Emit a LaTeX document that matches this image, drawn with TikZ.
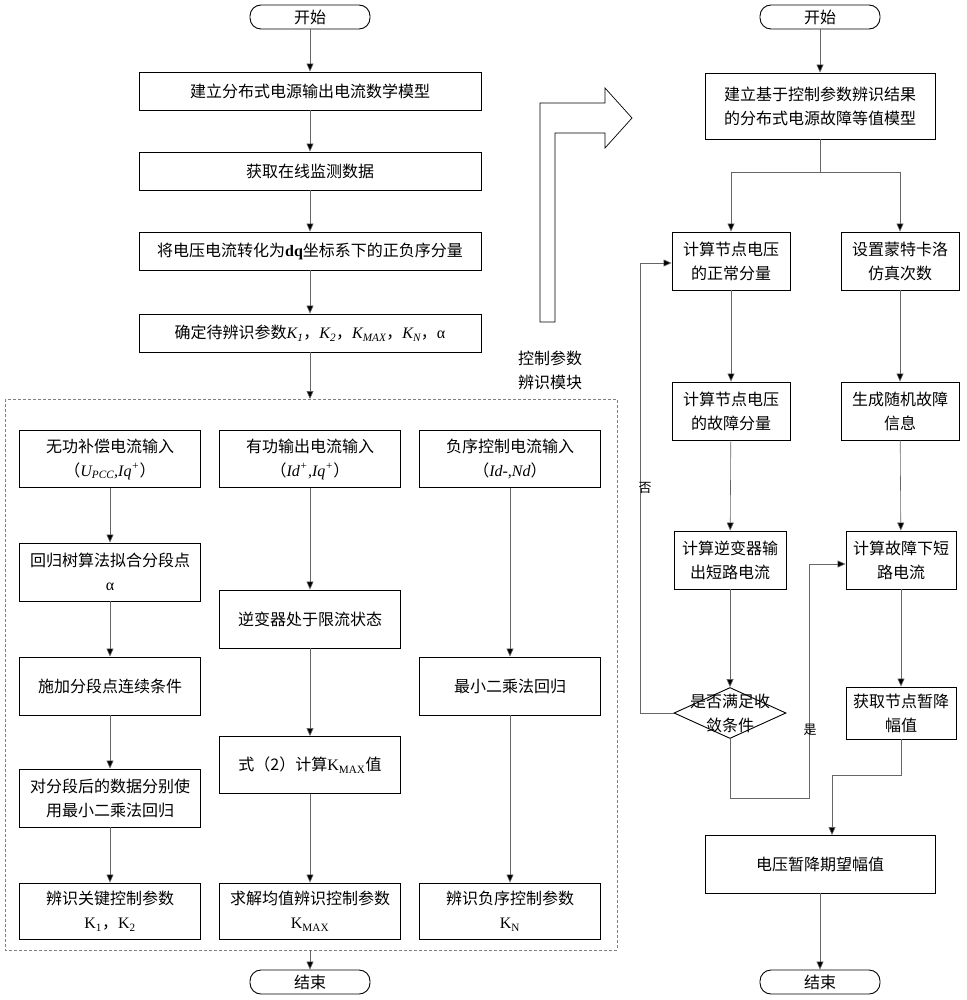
\documentclass[tikz,border=0pt]{standalone}
\usepackage{fontspec}
\setmainfont{Noto Sans CJK SC}
\newfontfamily\lat{Liberation Serif}
\usetikzlibrary{shapes.geometric,arrows.meta}
\begin{document}
\begin{tikzpicture}[x=1pt,y=-1pt,font=\fontsize{16}{24}\selectfont,
 box/.style={draw,line width=0.9pt,minimum width=#1,align=center,inner sep=1pt},
 term/.style={draw,line width=0.9pt,rounded corners=11pt,minimum width=120pt,minimum height=24pt,inner sep=1pt},
 ln/.style={draw=black!60,line width=0.6pt},
 ar/.style={ln,-{Triangle[length=8pt,width=7pt,fill=black]}}]
\useasboundingbox (0,0) rectangle (966,1000);
% left main
\node[term] (s1) at (310,17) {开始};
\node[box=342pt,minimum height=38pt] (a1) at (310,91) {建立分布式电源输出电流数学模型};
\node[box=342pt,minimum height=38pt] (a2) at (310,171) {获取在线监测数据};
\node[box=342pt,minimum height=38pt] (a3) at (310,251) {将电压电流转化为{\lat\bfseries dq}坐标系下的正负序分量};
\node[box=342pt,minimum height=38pt] (a4) at (310,333) {确定待辨识参数{\lat\itshape K\textsubscript{1}}，{\lat\itshape K\textsubscript{2}}，{\lat\itshape K\textsubscript{MAX}}，{\lat\itshape K\textsubscript{N}}，{\lat α}};
\draw[densely dashed,draw=black!50,line width=0.5pt] (5,399) rectangle (617,950);
\node[align=center] (lab) at (550,370) {控制参数\\辨识模块};
\coordinate (mt) at (310,399);
\draw[ar] (s1) -- (a1); \draw[ar] (a1) -- (a2); \draw[ar] (a2) -- (a3); \draw[ar] (a3) -- (a4); \draw[ar] (a4) -- (mt);
% module
\node[box=181pt,minimum height=57pt] (b1) at (110,459) {无功补偿电流输入\\（{\lat\itshape U\textsubscript{PCC},Iq\textsuperscript{+}}）};
\node[box=181pt,minimum height=57pt] (c1) at (310,459) {有功输出电流输入\\（{\lat\itshape Id\textsuperscript{+},Iq\textsuperscript{+}}）};
\node[box=181pt,minimum height=57pt] (d1) at (510,459) {负序控制电流输入\\（{\lat\itshape Id-,Nd}）};
\node[box=181pt,minimum height=58pt] (b2) at (110,572) {回归树算法拟合分段点\\{\lat α}};
\node[box=181pt,minimum height=58pt] (b3) at (110,686) {施加分段点连续条件};
\node[box=181pt,minimum height=58pt] (b4) at (110,798) {对分段后的数据分别使\\用最小二乘法回归};
\node[box=181pt,minimum height=58pt] (c2) at (310,619) {逆变器处于限流状态};
\node[box=181pt,minimum height=57pt] (c3) at (310,765) {式（2）计算{\lat K\textsubscript{MAX}}值};
\node[box=181pt,minimum height=58pt] (d2) at (510,686) {最小二乘法回归};
\node[box=181pt,minimum height=56pt] (b5) at (110,911) {辨识关键控制参数\\{\lat K\textsubscript{1}}，{\lat K\textsubscript{2}}};
\node[box=181pt,minimum height=56pt] (c4) at (310,911) {求解均值辨识控制参数\\{\lat K\textsubscript{MAX}}};
\node[box=181pt,minimum height=56pt] (d3) at (510,911) {辨识负序控制参数\\{\lat K\textsubscript{N}}};
\draw[ar] (b1) -- (b2); \draw[ar] (b2) -- (b3); \draw[ar] (b3) -- (b4); \draw[ar] (b4) -- (b5);
\draw[ar] (c1) -- (c2); \draw[ar] (c2) -- (c3); \draw[ar] (c3) -- (c4);
\draw[ar] (d1) -- (d2); \draw[ar] (d2) -- (d3);
\node[term] (e1) at (310,982) {结束};
\coordinate (mb) at (310,950);
\draw[ar] (mb) -- (e1);
% hollow arrow
\draw[line width=0.7pt] (540,322) -- (540,103) -- (605,103) -- (605,88) -- (632,118) -- (605,148) -- (605,133) -- (555,133) -- (555,322) -- cycle;
% right
\node[term] (s2) at (820,17) {开始};
\node[box=230pt,minimum height=66pt] (r1) at (820,106) {建立基于控制参数辨识结果\\的分布式电源故障等值模型};
\node[box=118pt,minimum height=58pt] (p1) at (731,261) {计算节点电压\\的正常分量};
\node[box=118pt,minimum height=58pt] (q1) at (900,261) {设置蒙特卡洛\\仿真次数};
\node[box=118pt,minimum height=58pt] (p2) at (731,411) {计算节点电压\\的故障分量};
\node[box=118pt,minimum height=58pt] (q2) at (900,411) {生成随机故障\\信息};
\node[box=112pt,minimum height=58pt] (p3) at (730,560) {计算逆变器输\\出短路电流};
\node[box=110pt,minimum height=58pt] (q3) at (901,560) {计算故障下短\\路电流};
\node[draw,line width=0.9pt,diamond,aspect=2.2,minimum width=112pt,minimum height=51pt,inner sep=0pt] (dm) at (730,713) {};
\node[align=center] at (730,713) {是否满足收\\敛条件};
\node[box=110pt,minimum height=52pt] (q4) at (901,713) {获取节点暂降\\幅值};
\node[box=230pt,minimum height=58pt] (r2) at (820,864) {电压暂降期望幅值};
\node[term] (e2) at (820,982) {结束};
\draw[ar] (s2) -- (r1);
\coordinate (sp) at (820,172);
\draw[ln] (r1) -- (sp);
\draw[ar] (sp) -| (p1); \draw[ar] (sp) -| (q1);
\draw[ar] (p1) -- (p2); \draw[ar] (p2) -- (p3); \draw[ar] (p3) -- (dm);
\draw[ar] (q1) -- (q2); \draw[ar] (q2) -- (q3); \draw[ar] (q3) -- (q4);
\draw[ar] (dm.west) -- (640,713) -- (640,263) -- (p1.west|-0,263);
\node at (645,488) {\fontsize{13}{14}\selectfont 否};
\draw[ar] (dm.south) -- (730,798) -- (809,798) -- (809,564) -- (q3.west|-0,564);
\node at (810,730) {\fontsize{13}{14}\selectfont 是};
\draw[ar] (q4.south) -- (901,775) -- (832,775) -- (832,835);
\draw[ar] (r2) -- (e2);
\end{tikzpicture}
\end{document}
